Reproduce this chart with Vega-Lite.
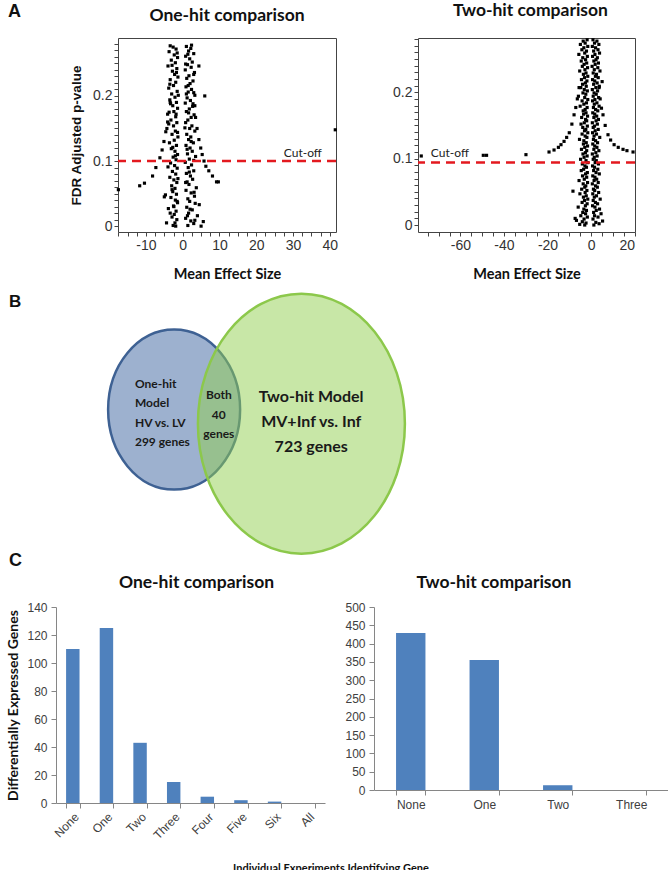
{
 "$schema": "https://vega.github.io/schema/vega-lite/v6.json",
 "background": "white",
 "padding": {"left": 5, "top": 1, "right": 0, "bottom": 0},
 "spacing": 4,
 "config": {
  "view": {"stroke": null},
  "title": {"font": "Lato", "fontWeight": "bold", "fontSize": 17.5, "color": "#111111"},
  "axis": {"grid": false, "labelFont": "Liberation Sans", "titleFont": "Lato", "titleFontWeight": "bold", "labelColor": "#333333", "titleColor": "#111111"}
 },
 "vconcat": [
  {
   "bounds": "flush",
   "spacing": 0,
   "title": {"text": "A", "anchor": "start", "frame": "group", "font": "Liberation Sans", "fontSize": 18, "dx": -48, "offset": -19},
   "hconcat": [
    {"width": 62, "height": 194, "data": {"values": []}, "mark": {"type": "point", "opacity": 0}, "encoding": {}},
    {
     "bounds": "flush",
     "spacing": 82,
     "hconcat": [
      {
       "width": 218, "height": 194,
       "view": {"stroke": "#444444", "strokeWidth": 1},
       "title": {"text": "One-hit comparison", "offset": 12.5},
       "layer": [
        {
         "data": {"values": "x,y\n-2.6,0.275\n-1.8,0.272\n-3.7,0.268\n-2.3,0.263\n-1.4,0.259\n-3.1,0.255\n-2.0,0.251\n-4.0,0.246\n-1.6,0.242\n-2.8,0.238\n-2.2,0.233\n-1.3,0.229\n-3.4,0.225\n-1.9,0.221\n-2.5,0.216\n-3.8,0.212\n-1.5,0.207\n-3.0,0.203\n-2.1,0.198\n-3.5,0.194\n-1.7,0.19\n-2.7,0.185\n-1.4,0.181\n-2.4,0.176\n-4.1,0.172\n-1.9,0.168\n-3.2,0.163\n-1.6,0.159\n-2.5,0.154\n-4.3,0.15\n-2.0,0.146\n-2.9,0.141\n-1.3,0.137\n-2.3,0.132\n-3.6,0.128\n-1.7,0.124\n-3.1,0.119\n-2.1,0.115\n-1.4,0.11\n-2.6,0.106\n-1.8,0.102\n-3.3,0.097\n-2.2,0.093\n-1.5,0.089\n-2.8,0.084\n-1.9,0.08\n-3.5,0.075\n-2.4,0.071\n-1.6,0.067\n-3.0,0.062\n-2.1,0.058\n-4.7,0.048\n-2.7,0.053\n-1.7,0.049\n-3.2,0.044\n-2.0,0.04\n-1.4,0.036\n-2.5,0.031\n-3.9,0.027\n-1.8,0.023\n-2.3,0.018\n-2.9,0.014\n-1.6,0.01\n-2.1,0.005\n-2.6,0.001\n-1.9,0.0\n-3.4,0.277\n-1.5,0.266\n-2.9,0.247\n-1.7,0.236\n-3.5,0.218\n-1.2,0.201\n-3.3,0.188\n-1.8,0.172\n-3.8,0.157\n-1.4,0.144\n-2.7,0.121\n-2.0,0.108\n-4.0,0.091\n-1.3,0.073\n-2.9,0.056\n-1.5,0.038\n-3.4,0.02\n-4.4,0.005\n-2.4,0.03\n-5.0,0.045\n-3.4,0.19\n-3.7,0.175\n-4.1,0.16\n-4.6,0.145\n-5.1,0.13\n-5.6,0.117\n-6.2,0.105\n-7.3,0.09\n-8.2,0.077\n-10.4,0.066\n-11.7,0.062\n-17.5,0.056\n1.0,0.276\n2.2,0.273\n1.6,0.269\n3.0,0.265\n0.8,0.261\n1.9,0.257\n2.6,0.252\n1.3,0.248\n2.3,0.244\n0.7,0.24\n3.2,0.236\n1.7,0.231\n1.1,0.227\n2.8,0.223\n2.0,0.219\n0.9,0.214\n2.4,0.21\n1.5,0.206\n3.3,0.201\n1.2,0.197\n2.1,0.193\n0.7,0.189\n2.7,0.184\n1.8,0.18\n1.0,0.176\n3.1,0.171\n2.3,0.167\n1.4,0.163\n0.8,0.159\n2.5,0.154\n1.9,0.15\n3.3,0.146\n1.1,0.141\n2.2,0.137\n1.6,0.133\n2.9,0.128\n0.9,0.124\n2.0,0.12\n2.6,0.115\n1.3,0.111\n3.5,0.107\n1.8,0.103\n0.7,0.098\n2.4,0.094\n1.5,0.09\n3.0,0.085\n1.0,0.081\n2.1,0.077\n2.7,0.072\n1.2,0.068\n1.7,0.064\n3.7,0.059\n0.9,0.055\n2.3,0.051\n3.2,0.046\n1.4,0.042\n1.9,0.038\n4.5,0.033\n1.1,0.029\n2.6,0.025\n1.6,0.02\n4.0,0.016\n0.8,0.012\n2.2,0.008\n3.0,0.004\n1.4,0.001\n5.0,0.0\n2.4,0.278\n1.4,0.264\n0.8,0.249\n3.0,0.233\n1.5,0.216\n1.0,0.203\n2.8,0.188\n1.6,0.174\n0.6,0.151\n2.3,0.13\n1.2,0.118\n3.0,0.101\n1.8,0.083\n0.8,0.067\n3.1,0.052\n2.0,0.026\n3.4,0.035\n3.3,0.009\n5.6,0.007\n1.3,0.016\n3.0,0.205\n3.3,0.185\n3.5,0.167\n3.9,0.15\n4.4,0.133\n4.9,0.12\n5.3,0.11\n5.8,0.1\n6.3,0.092\n7.1,0.085\n8.1,0.077\n9.2,0.068\n9.7,0.068\n4.4,0.246\n6.0,0.2\n41.5,0.148", "format": {"type": "csv", "parse": {"x": "number", "y": "number"}}},
         "mark": {"type": "point", "shape": "square", "filled": true, "size": 10, "color": "#000000", "opacity": 1},
         "encoding": {
          "x": {"field": "x", "type": "quantitative", "scale": {"domain": [-17.6, 41.7], "nice": false, "zero": false},
           "axis": {"title": "Mean Effect Size", "values": [-17.5, -15, -12.5, -10, -7.5, -5, -2.5, 0, 2.5, 5, 7.5, 10, 12.5, 15, 17.5, 20, 22.5, 25, 27.5, 30, 32.5, 35, 37.5, 40], "tickCount": 100, "labelExpr": "datum.value % 10 === 0 ? '' + datum.value : ''", "labelOverlap": false, "domain": false, "tickSize": 4, "tickColor": "#444444", "labelFontSize": 14, "labelPadding": 2, "titleFontSize": 14.5, "titleY": 35, "titleBaseline": "top"}},
          "y": {"field": "y", "type": "quantitative", "scale": {"domain": [-0.009, 0.289], "nice": false, "zero": false},
           "axis": {"title": "FDR Adjusted p-value", "values": [0, 0.01, 0.02, 0.03, 0.04, 0.05, 0.06, 0.07, 0.08, 0.09, 0.1, 0.11, 0.12, 0.13, 0.14, 0.15, 0.16, 0.17, 0.18, 0.19, 0.2, 0.21, 0.22, 0.23, 0.24, 0.25, 0.26, 0.27, 0.28], "tickCount": 100, "labelExpr": "datum.value === 0 ? '0' : datum.value === 0.1 ? '0.1' : datum.value === 0.2 ? '0.2' : ''", "labelOverlap": false, "domain": false, "tickSize": 4, "tickColor": "#444444", "labelFontSize": 14, "labelPadding": 2, "titleFont": "Liberation Sans", "titleFontSize": 13.5, "titleX": -35}}
         }
        },
        {
         "data": {"values": [{"cutoff": 0.1}]},
         "mark": {"type": "rule", "color": "#E3191F", "strokeWidth": 2.5, "strokeDash": [9, 6]},
         "encoding": {"y": {"field": "cutoff", "type": "quantitative", "title": "FDR Adjusted p-value"}}
        },
        {
         "data": {"values": [{"label": "Cut-off", "x": 27.5, "y": 0.112}]},
         "mark": {"type": "text", "align": "left", "baseline": "middle", "font": "Lato", "fontSize": 12, "color": "#222222"},
         "encoding": {"x": {"field": "x", "type": "quantitative", "title": "Mean Effect Size"}, "y": {"field": "y", "type": "quantitative", "title": "FDR Adjusted p-value"}, "text": {"field": "label"}}
        }
       ]
      },
      {
       "width": 217, "height": 194,
       "view": {"stroke": "#444444", "strokeWidth": 1},
       "title": {"text": "Two-hit comparison", "offset": 12.5, "dx": 4},
       "layer": [
        {
         "data": {"values": "x,y\n-1.8,0.279\n-3.6,0.277\n-2.7,0.274\n-4.9,0.272\n-1.5,0.269\n-3.3,0.267\n-4.2,0.264\n-2.1,0.262\n-2.9,0.259\n-5.6,0.257\n-1.7,0.254\n-3.8,0.252\n-2.5,0.249\n-4.5,0.247\n-2.0,0.244\n-3.2,0.242\n-4.0,0.239\n-1.6,0.237\n-2.8,0.234\n-5.2,0.232\n-2.3,0.229\n-3.5,0.227\n-1.5,0.224\n-3.0,0.222\n-4.4,0.219\n-1.9,0.217\n-2.6,0.214\n-3.9,0.212\n-2.2,0.209\n-4.7,0.207\n-3.1,0.204\n-1.7,0.202\n-3.7,0.199\n-2.4,0.197\n-5.8,0.194\n-2.9,0.192\n-1.5,0.189\n-4.1,0.187\n-2.1,0.184\n-3.3,0.182\n-5.0,0.179\n-1.8,0.177\n-2.7,0.174\n-3.6,0.172\n-2.3,0.169\n-3.4,0.167\n-1.6,0.164\n-4.3,0.162\n-2.5,0.159\n-2.0,0.157\n-3.1,0.154\n-4.6,0.152\n-1.7,0.149\n-3.8,0.147\n-2.4,0.144\n-3.0,0.142\n-1.5,0.139\n-4.1,0.137\n-2.7,0.134\n-1.9,0.132\n-5.3,0.129\n-3.3,0.127\n-2.2,0.124\n-3.5,0.122\n-1.6,0.119\n-2.9,0.117\n-4.4,0.114\n-2.0,0.112\n-2.6,0.109\n-3.7,0.107\n-1.8,0.104\n-3.2,0.102\n-4.8,0.099\n-2.3,0.097\n-1.5,0.094\n-4.0,0.092\n-2.8,0.089\n-2.1,0.087\n-3.4,0.084\n-4.5,0.082\n-1.7,0.079\n-2.5,0.077\n-3.9,0.074\n-2.0,0.072\n-3.1,0.069\n-5.5,0.067\n-1.6,0.064\n-3.6,0.062\n-2.4,0.059\n-2.9,0.057\n-4.3,0.054\n-1.9,0.052\n-2.7,0.049\n-5.1,0.047\n-2.2,0.044\n-3.5,0.042\n-1.5,0.039\n-3.0,0.037\n-4.1,0.034\n-1.8,0.032\n-2.6,0.029\n-5.9,0.027\n-3.3,0.024\n-2.1,0.022\n-3.8,0.019\n-2.5,0.017\n-4.7,0.014\n-1.7,0.012\n-3.2,0.009\n-6.7,0.007\n-4.0,0.005\n-2.3,0.003\n-5.2,0.001\n-2.9,0.0\n-7.3,0.01\n0.9,0.279\n2.7,0.277\n1.6,0.274\n3.6,0.272\n0.6,0.269\n2.1,0.267\n3.2,0.264\n1.2,0.262\n3.9,0.259\n1.8,0.257\n0.7,0.254\n2.9,0.252\n2.3,0.249\n1.3,0.247\n3.4,0.244\n1.9,0.242\n0.5,0.239\n3.1,0.237\n1.5,0.234\n4.1,0.232\n1.0,0.229\n2.5,0.227\n2.0,0.224\n3.3,0.222\n0.7,0.219\n1.7,0.217\n2.8,0.214\n1.2,0.212\n3.8,0.209\n2.2,0.207\n0.6,0.204\n3.0,0.202\n1.4,0.199\n2.4,0.197\n1.0,0.194\n3.5,0.192\n1.8,0.189\n0.7,0.187\n2.7,0.184\n1.5,0.182\n3.7,0.179\n1.1,0.177\n2.1,0.174\n3.1,0.172\n0.8,0.169\n1.7,0.167\n2.6,0.164\n1.3,0.162\n3.4,0.159\n2.3,0.157\n0.6,0.154\n2.9,0.152\n1.6,0.149\n1.0,0.147\n3.3,0.144\n1.9,0.142\n0.7,0.139\n2.5,0.137\n1.4,0.134\n4.0,0.132\n1.1,0.129\n2.1,0.127\n3.0,0.124\n0.8,0.122\n1.7,0.119\n2.7,0.117\n1.3,0.114\n3.6,0.112\n2.2,0.109\n0.6,0.107\n2.8,0.104\n1.5,0.102\n1.0,0.099\n2.4,0.097\n1.9,0.094\n3.4,0.092\n0.7,0.089\n1.6,0.087\n3.1,0.084\n1.2,0.082\n2.3,0.079\n3.8,0.077\n0.8,0.074\n1.8,0.072\n2.6,0.069\n1.4,0.067\n3.3,0.064\n0.6,0.062\n2.1,0.059\n2.9,0.057\n1.1,0.054\n1.7,0.052\n3.5,0.049\n0.8,0.047\n2.5,0.044\n1.5,0.042\n4.2,0.039\n1.0,0.037\n2.0,0.034\n3.0,0.032\n0.7,0.029\n1.8,0.027\n3.9,0.024\n2.4,0.022\n1.2,0.019\n4.6,0.017\n1.6,0.014\n3.2,0.012\n0.9,0.009\n5.3,0.006\n2.2,0.004\n3.7,0.002\n1.3,0.0\n-5.5,0.207\n-6.3,0.19\n-7.0,0.177\n-7.8,0.166\n-8.8,0.152\n-10.0,0.139\n-11.2,0.132\n-12.4,0.126\n-13.8,0.121\n-15.0,0.117\n-17.0,0.113\n-19.3,0.11\n-29.9,0.106\n-48.0,0.105\n-49.5,0.105\n-78.0,0.104\n-8.3,0.051\n3.7,0.207\n4.2,0.19\n4.8,0.176\n5.5,0.166\n6.5,0.15\n7.8,0.136\n9.0,0.128\n10.6,0.121\n12.5,0.117\n14.7,0.114\n16.5,0.112\n19.3,0.11\n5.1,0.216", "format": {"type": "csv", "parse": {"x": "number", "y": "number"}}},
         "mark": {"type": "point", "shape": "square", "filled": true, "size": 10, "color": "#000000", "opacity": 1},
         "encoding": {
          "x": {"field": "x", "type": "quantitative", "scale": {"domain": [-79.5, 20.2], "nice": false, "zero": false},
           "axis": {"title": "Mean Effect Size", "values": [-75, -70, -65, -60, -55, -50, -45, -40, -35, -30, -25, -20, -15, -10, -5, 0, 5, 10, 15, 20], "tickCount": 100, "labelExpr": "datum.value % 20 === 0 ? '' + datum.value : ''", "labelOverlap": false, "domain": false, "tickSize": 4, "tickColor": "#444444", "labelFontSize": 14, "labelPadding": 2, "titleFontSize": 14.5, "titleY": 35, "titleBaseline": "top"}},
          "y": {"field": "y", "type": "quantitative", "scale": {"domain": [-0.0105, 0.2817], "nice": false, "zero": false},
           "axis": {"title": null, "values": [0, 0.01, 0.02, 0.03, 0.04, 0.05, 0.06, 0.07, 0.08, 0.09, 0.1, 0.11, 0.12, 0.13, 0.14, 0.15, 0.16, 0.17, 0.18, 0.19, 0.2, 0.21, 0.22, 0.23, 0.24, 0.25, 0.26, 0.27, 0.28], "tickCount": 100, "labelExpr": "datum.value === 0 ? '0' : datum.value === 0.1 ? '0.1' : datum.value === 0.2 ? '0.2' : ''", "labelOverlap": false, "domain": false, "tickSize": 4, "tickColor": "#444444", "labelFontSize": 14, "labelPadding": 2}}
         }
        },
        {
         "data": {"values": [{"cutoff": 0.094}]},
         "mark": {"type": "rule", "color": "#E3191F", "strokeWidth": 2.5, "strokeDash": [9, 6]},
         "encoding": {"y": {"field": "cutoff", "type": "quantitative", "title": null}}
        },
        {
         "data": {"values": [{"label": "Cut-off", "x": -73.6, "y": 0.108}]},
         "mark": {"type": "text", "align": "left", "baseline": "middle", "font": "Lato", "fontSize": 12, "color": "#222222"},
         "encoding": {"x": {"field": "x", "type": "quantitative", "title": "Mean Effect Size"}, "y": {"field": "y", "type": "quantitative", "title": null}, "text": {"field": "label"}}
        }
       ]
      }
     ]
    }
   ]
  },
  {
   "title": {"text": "C", "orient": "bottom", "anchor": "start", "frame": "group", "font": "Liberation Sans", "fontSize": 18, "dx": -47, "offset": -7},
   "vconcat": [
    {
     "width": 612, "height": 268,
     "title": {"text": "B", "anchor": "start", "frame": "group", "font": "Liberation Sans", "fontSize": 17, "dx": -47, "offset": -26},
     "layer": [
      {
       "data": {"values": [{"set": "One-hit Model", "x": 19.3, "y": 53.5}]},
       "mark": {"type": "point", "shape": "M0.825,0C0.825,0.5523,0.4556,1,0,1C-0.4556,1,-0.825,0.5523,-0.825,0C-0.825,-0.5523,-0.4556,-1,0,-1C0.4556,-1,0.825,-0.5523,0.825,0Z", "size": 25600, "filled": true, "fill": "#9DB1CF", "fillOpacity": 1, "stroke": "#3E6193", "strokeWidth": 2.5, "opacity": 1},
       "encoding": {"x": {"field": "x", "type": "quantitative", "scale": {"domain": [0, 100]}, "axis": null}, "y": {"field": "y", "type": "quantitative", "scale": {"domain": [0, 100]}, "axis": null}}
      },
      {
       "data": {"values": [{"set": "Two-hit Model", "x": 40.1, "y": 48.26}]},
       "mark": {"type": "point", "shape": "M0.796,0C0.796,0.5523,0.4396,1,0,1C-0.4396,1,-0.796,0.5523,-0.796,0C-0.796,-0.5523,-0.4396,-1,0,-1C0.4396,-1,0.796,-0.5523,0.796,0Z", "size": 67600, "filled": true, "fill": "#92D050", "fillOpacity": 0.5, "stroke": "#8CC84B", "strokeWidth": 2.5, "opacity": 1},
       "encoding": {"x": {"field": "x", "type": "quantitative", "axis": null}, "y": {"field": "y", "type": "quantitative", "axis": null}}
      },
      {
       "data": {"values": [{"label": "One-hit\nModel\nHV vs. LV\n299 genes", "x": 12.9, "y": 63.2}]},
       "mark": {"type": "text", "align": "left", "baseline": "middle", "lineBreak": "\n", "lineHeight": 19.5, "font": "Lato", "fontWeight": "bold", "fontSize": 12, "color": "#1A1A1A"},
       "encoding": {"x": {"field": "x", "type": "quantitative", "axis": null}, "y": {"field": "y", "type": "quantitative", "axis": null}, "text": {"field": "label"}}
      },
      {
       "data": {"values": [{"label": "Both\n40\ngenes", "x": 26.6, "y": 58.95}]},
       "mark": {"type": "text", "align": "center", "baseline": "middle", "lineBreak": "\n", "lineHeight": 19.5, "font": "Lato", "fontWeight": "bold", "fontSize": 12, "color": "#1A1A1A"},
       "encoding": {"x": {"field": "x", "type": "quantitative", "axis": null}, "y": {"field": "y", "type": "quantitative", "axis": null}, "text": {"field": "label"}}
      },
      {
       "data": {"values": [{"label": "Two-hit Model\nMV+Inf vs. Inf\n723 genes", "x": 41.7, "y": 58.15}]},
       "mark": {"type": "text", "align": "center", "baseline": "middle", "lineBreak": "\n", "lineHeight": 25, "font": "Lato", "fontWeight": "bold", "fontSize": 16, "color": "#1A1A1A"},
       "encoding": {"x": {"field": "x", "type": "quantitative", "axis": null}, "y": {"field": "y", "type": "quantitative", "axis": null}, "text": {"field": "label"}}
      }
     ]
    }
   ]
  },
  {
   "bounds": "flush",
   "spacing": 49,
   "title": {"text": "Individual Experiments Identifying Gene", "orient": "bottom", "anchor": "middle", "frame": "group", "font": "Lato", "fontWeight": "bold", "fontSize": 11, "dx": 275, "offset": 22},
   "hconcat": [
    {
     "width": 269, "height": 196,
     "title": {"text": "One-hit comparison", "dx": 6, "offset": 9.5},
     "data": {"values": [{"experiments": "None", "genes": 110}, {"experiments": "One", "genes": 125}, {"experiments": "Two", "genes": 43}, {"experiments": "Three", "genes": 15}, {"experiments": "Four", "genes": 4.5}, {"experiments": "Five", "genes": 2}, {"experiments": "Six", "genes": 1}, {"experiments": "All", "genes": 0}]},
     "mark": {"type": "bar", "color": "#4F81BD"},
     "encoding": {
      "x": {"field": "experiments", "type": "nominal", "sort": null, "scale": {"paddingInner": 0.6, "paddingOuter": 0.3},
       "axis": {"title": null, "labelAngle": -45, "tickBand": "extent", "domainColor": "#868686", "tickColor": "#868686", "tickSize": 5, "labelFontSize": 12, "labelColor": "#404040", "labelPadding": 3}},
      "y": {"field": "genes", "type": "quantitative", "scale": {"domain": [0, 140], "nice": false},
       "axis": {"title": "Differentially Expressed Genes", "values": [0, 20, 40, 60, 80, 100, 120, 140], "tickCount": 100, "domainColor": "#868686", "tickColor": "#868686", "tickSize": 5, "labelFontSize": 12, "labelColor": "#404040", "labelPadding": 4, "titleFontSize": 14, "titleX": -36}}
     }
    },
    {
     "width": 294, "height": 183,
     "title": {"text": "Two-hit comparison", "dx": -27, "offset": 9.5},
     "data": {"values": [{"experiments": "None", "genes": 429}, {"experiments": "One", "genes": 355}, {"experiments": "Two", "genes": 13}, {"experiments": "Three", "genes": 0}]},
     "mark": {"type": "bar", "color": "#4F81BD"},
     "encoding": {
      "x": {"field": "experiments", "type": "nominal", "sort": null, "scale": {"paddingInner": 0.6, "paddingOuter": 0.3},
       "axis": {"title": null, "labelAngle": 0, "tickBand": "extent", "domainColor": "#868686", "tickColor": "#868686", "tickSize": 5, "labelFontSize": 12, "labelColor": "#404040", "labelPadding": 4}},
      "y": {"field": "genes", "type": "quantitative", "scale": {"domain": [0, 500], "nice": false},
       "axis": {"title": null, "values": [0, 50, 100, 150, 200, 250, 300, 350, 400, 450, 500], "tickCount": 100, "domainColor": "#868686", "tickColor": "#868686", "tickSize": 5, "labelFontSize": 12, "labelColor": "#404040", "labelPadding": 4}}
     }
    }
   ]
  }
 ]
}
